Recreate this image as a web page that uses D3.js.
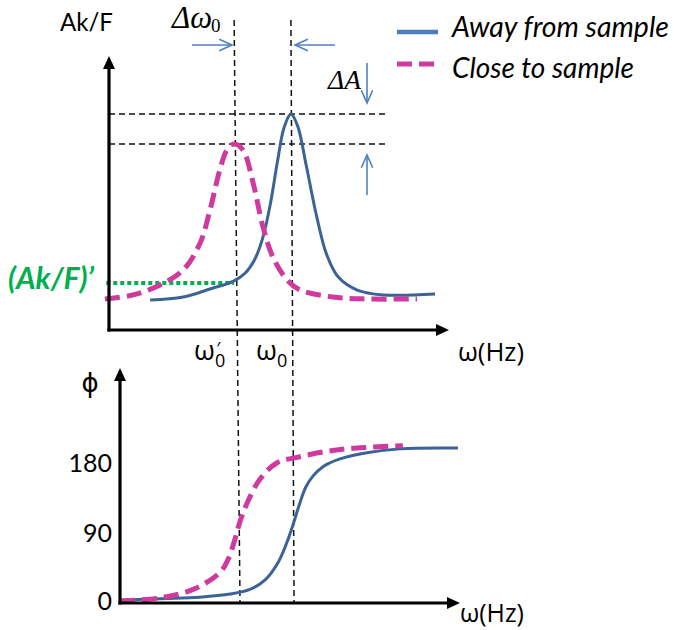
<!DOCTYPE html>
<html>
<head>
<script src="https://d3js.org/d3.v7.min.js"></script>
<style>
  body { margin: 0; background: #fff; }
</style>
</head>
<body>
<div id="chart"></div>
<script>
// amplitude curves (omega in arbitrary units, Ak/F arbitrary units)
var ampOmegaAway = [1.21, 2.18, 2.97, 3.65, 4.0, 4.3, 4.53, 4.75, 4.95, 5.15, 5.35, 5.55, 5.8, 6.1, 6.4, 6.75, 7.3, 8.06, 9.59];
var ampAway      = [1.11, 1.22, 1.52, 1.80, 2.10, 2.65, 3.45, 4.70, 6.20, 7.50, 8.00, 7.55, 6.10, 4.25, 2.80, 1.95, 1.48, 1.30, 1.33];
var ampOmegaClose = [-0.12, 0.71, 1.50, 2.18, 2.68, 2.97, 3.26, 3.47, 3.68, 3.94, 4.24, 4.53, 4.82, 5.24, 5.62, 6.59, 7.59, 9.06];
var ampClose      = [1.15, 1.30, 1.67, 2.22, 3.22, 4.44, 5.93, 6.67, 6.89, 6.67, 5.44, 3.81, 2.70, 1.85, 1.48, 1.22, 1.15, 1.15];

// phase curves (degrees)
var phaseOmegaAway = [0, 1.18, 2.35, 3.24, 3.82, 4.26, 4.65, 4.91, 5.12, 5.29, 5.47, 5.68, 5.97, 6.47, 7.26, 8.24, 9.94];
var phaseAway      = [1, 3, 5, 9, 15, 27, 50, 76, 103, 127, 148, 162, 174, 184, 192, 197, 198];
var phaseOmegaClose = [0, 1.18, 2.15, 2.94, 3.18, 3.38, 3.53, 3.74, 4.12, 4.62, 5.21, 6.26, 7.26, 8.32];
var phaseClose      = [0, 4, 15, 37, 54, 80, 103, 127, 158, 179, 186, 195, 199, 201];
var phaseTicks = [0, 90, 180];

// resonance markers
var omega0Amp = 5.35, omega0CloseAmp = 3.68;     // peaks in top plot
var omega0Phase = 5.12, omega0ClosePhase = 3.53; // 90 deg points in bottom plot
var peakAway = 8.0, peakClose = 6.89, ampPrime = 1.74;
var legendLabels = ["Away from sample", "Close to sample"];

var blue = "#3b6395", pink = "#cf3a9e", arrowBlue = "#4f81bd", green = "#00b050";
var sans = "Lato, 'Open Sans', 'DejaVu Sans', sans-serif";
var greek = "'Open Sans', 'DejaVu Sans', sans-serif";
var serif = "'Liberation Serif', 'DejaVu Serif', serif";

var svg = d3.select("#chart").append("svg")
    .attr("width", 674).attr("height", 630);

// scales
var xTop = d3.scaleLinear().domain([0, 10]).range([109, 449]);
var yTop = d3.scaleLinear().domain([0, 10]).range([330, 60]);
var xBot = d3.scaleLinear().domain([0, 10]).range([120, 460]);
var yBot = d3.scaleLinear().domain([0, 180]).range([601, 462]);

function fitW(t, w) {
    var cur = t.node().getComputedTextLength();
    var fs = parseFloat(t.attr("font-size"));
    t.attr("font-size", fs * w / cur);
    return t;
}

function dashed(x1, y1, x2, y2) {
    svg.append("line").attr("x1", x1).attr("y1", y1).attr("x2", x2).attr("y2", y2)
        .attr("stroke", "#111").attr("stroke-width", 1.5).attr("stroke-dasharray", "6,4");
}

// thin blue arrow with open head at (x2,y2)
function arrow(x1, y1, x2, y2) {
    var a = Math.atan2(y2 - y1, x2 - x1), L = 14, s = 0.42;
    svg.append("line").attr("x1", x1).attr("y1", y1).attr("x2", x2).attr("y2", y2)
        .attr("stroke", arrowBlue).attr("stroke-width", 1.6);
    var p = [[x2 - L * Math.cos(a - s), y2 - L * Math.sin(a - s)], [x2, y2],
             [x2 - L * Math.cos(a + s), y2 - L * Math.sin(a + s)]];
    svg.append("path").attr("d", d3.line()(p)).attr("fill", "none")
        .attr("stroke", arrowBlue).attr("stroke-width", 1.6);
}

// thick black axis with filled arrow head
function axisArrow(x1, y1, x2, y2) {
    var a = Math.atan2(y2 - y1, x2 - x1), L = 13, w = 6;
    var bx = x2 - L * Math.cos(a), by = y2 - L * Math.sin(a);
    svg.append("line").attr("x1", x1).attr("y1", y1).attr("x2", bx + Math.cos(a)).attr("y2", by + Math.sin(a))
        .attr("stroke", "#000").attr("stroke-width", 3.2);
    svg.append("path").attr("fill", "#000")
        .attr("d", "M" + x2 + "," + y2 + "L" + (bx - w * Math.sin(a)) + "," + (by + w * Math.cos(a)) +
            "L" + (bx + w * Math.sin(a)) + "," + (by - w * Math.cos(a)) + "Z");
}

// ---- guide lines ----
dashed(xTop(0), yTop(peakAway), xTop(8.12), yTop(peakAway));
dashed(xTop(0), yTop(peakClose), xTop(8.12), yTop(peakClose));
dashed(xTop(omega0CloseAmp), 20, xBot(omega0ClosePhase), yBot(0) + 2);
dashed(xTop(omega0Amp), 20, xBot(omega0Phase), yBot(0) + 2);

// ---- top plot: amplitude ----
var lineTop = d3.line().x(function (d) { return xTop(d[0]); }).y(function (d) { return yTop(d[1]); })
    .curve(d3.curveCatmullRom.alpha(0.5));

svg.append("line").attr("x1", xTop(-0.08)).attr("x2", xTop(omega0CloseAmp))
    .attr("y1", yTop(ampPrime)).attr("y2", yTop(ampPrime))
    .attr("stroke", green).attr("stroke-width", 4).attr("stroke-dasharray", "4,3");

svg.append("path").datum(d3.zip(ampOmegaAway, ampAway)).attr("d", lineTop)
    .attr("fill", "none").attr("stroke", blue).attr("stroke-width", 3);
svg.append("path").datum(d3.zip(ampOmegaClose, ampClose)).attr("d", lineTop)
    .attr("fill", "none").attr("stroke", pink).attr("stroke-width", 5).attr("stroke-dasharray", "15,7");

axisArrow(xTop(0), yTop(0) + 1.6, xTop(0), 56);
axisArrow(xTop(0) - 1.6, yTop(0), 449, yTop(0));

// ---- bottom plot: phase ----
var lineBot = d3.line().x(function (d) { return xBot(d[0]); }).y(function (d) { return yBot(d[1]); })
    .curve(d3.curveCatmullRom.alpha(0.5));

svg.append("path").datum(d3.zip(phaseOmegaAway, phaseAway)).attr("d", lineBot)
    .attr("fill", "none").attr("stroke", blue).attr("stroke-width", 3);
svg.append("path").datum(d3.zip(phaseOmegaClose, phaseClose)).attr("d", lineBot)
    .attr("fill", "none").attr("stroke", pink).attr("stroke-width", 5).attr("stroke-dasharray", "15,7");

axisArrow(xBot(0), yBot(0) + 3.6, xBot(0), 368);
axisArrow(xBot(0) - 1.6, yBot(0) + 2, 460, yBot(0) + 2);

svg.selectAll(".ptick").data(phaseTicks).enter().append("text")
    .attr("x", 112).attr("y", function (d) { return yBot(d) - (d === 0 ? 1 : 0); })
    .attr("dominant-baseline", "central").attr("text-anchor", "end")
    .attr("font-family", sans).attr("font-size", 25).text(function (d) { return d; });

// ---- arrows ----
arrow(192, 45, 232, 45);
arrow(335, 45, 295, 45);
arrow(367, 63, 367, 103);
arrow(367, 195, 367, 155);

// ---- labels ----
fitW(svg.append("text").attr("x", 60).attr("y", 31).attr("font-family", sans).attr("font-size", 24).text("Ak/F"), 53);

fitW(svg.append("text").attr("x", 172).attr("y", 28).attr("font-family", serif).attr("font-size", 26)
    .attr("font-style", "italic").text("Δω"), 40);
svg.append("text").attr("x", 211).attr("y", 32).attr("font-family", serif).attr("font-size", 19).text("0");

fitW(svg.append("text").attr("x", 328).attr("y", 89).attr("font-family", serif).attr("font-size", 26)
    .attr("font-style", "italic").text("ΔA"), 33);

fitW(svg.append("text").attr("x", 8).attr("y", 289).attr("font-family", sans).attr("font-size", 24)
    .attr("font-weight", "bold").attr("font-style", "italic").attr("fill", green).text("(Ak/F)’"), 86);

// omega labels on top x axis
var w1 = svg.append("text").attr("x", 194).attr("y", 360).attr("font-family", greek).attr("font-size", 27);
w1.append("tspan").text("ω");
w1.append("tspan").attr("font-size", 18).attr("dy", 7).text("0");
w1.append("tspan").attr("font-size", 18).attr("dx", -9).attr("dy", -12).text("′");
var w2 = svg.append("text").attr("x", 256).attr("y", 360).attr("font-family", greek).attr("font-size", 27);
w2.append("tspan").text("ω");
w2.append("tspan").attr("font-size", 18).attr("dy", 7).text("0");

fitW(svg.append("text").attr("x", 458).attr("y", 361).attr("font-family", greek).attr("font-size", 25).text("ω(Hz)"), 66);
fitW(svg.append("text").attr("x", 460).attr("y", 622).attr("font-family", greek).attr("font-size", 25).text("ω(Hz)"), 64);

svg.append("text").attr("x", 90).attr("y", 392).attr("text-anchor", "middle")
    .attr("font-family", greek).attr("font-size", 26).text("ϕ");

// ---- legend ----
svg.append("line").attr("x1", 397).attr("x2", 438).attr("y1", 32).attr("y2", 32)
    .attr("stroke", "#4a7ebb").attr("stroke-width", 4.5);
svg.append("line").attr("x1", 397).attr("x2", 434).attr("y1", 64).attr("y2", 64)
    .attr("stroke", pink).attr("stroke-width", 5).attr("stroke-dasharray", "15,7");
fitW(svg.append("text").attr("x", 452).attr("y", 37).attr("font-family", sans).attr("font-size", 24)
    .attr("font-style", "italic").text(legendLabels[0]), 217);
fitW(svg.append("text").attr("x", 452).attr("y", 78).attr("font-family", sans).attr("font-size", 24)
    .attr("font-style", "italic").text(legendLabels[1]), 182);
</script>
</body>
</html>
